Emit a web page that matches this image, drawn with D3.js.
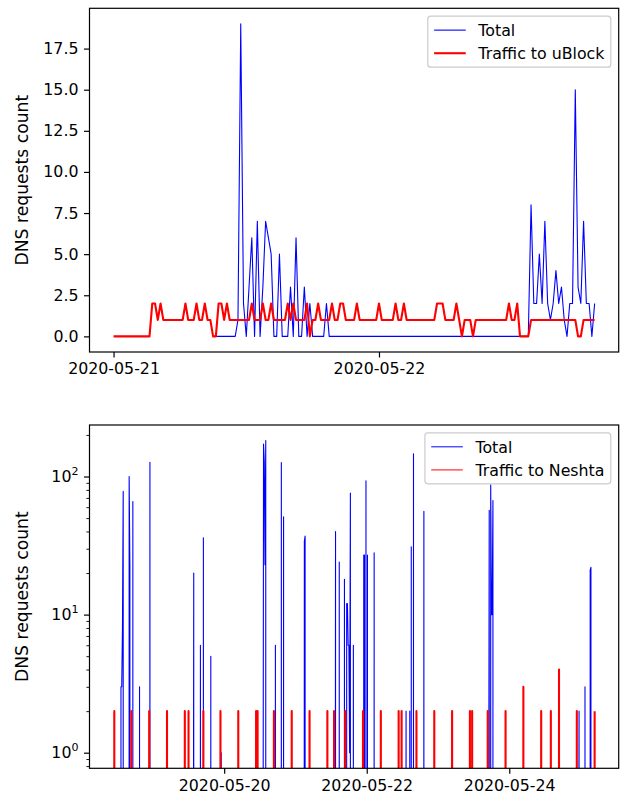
<!DOCTYPE html>
<html>
<head>
<meta charset="utf-8">
<script src="https://cdn.jsdelivr.net/npm/d3@7"></script>
<style>
  body { margin: 0; background: #ffffff; }
  svg { display: block; }
  text { font-family: "DejaVu Sans", sans-serif; fill: #000; }
</style>
</head>
<body>
<svg id="chart" width="626" height="796"></svg>
<script>
// ---------------- DATA ----------------
// Top chart: 15-minute counts
const topStepMinutes = 15;
const uBlockStart = "2020-05-21 00:00";
const uBlockValues = [
  0,0,0,0,0,0,0,0,0,0,
  0,0,0,0,2,2,1,2,1,1,
  1,1,1,1,1,1,2,1,1,1,
  2,1,1,2,1,1,0,0,2,2,
  1,2,1,1,1,1,1,1,1,1,
  2,1,1,1,2,1,1,2,1,1,
  1,1,1,2,1,2,1,1,1,1,
  2,0,1,1,2,1,1,1,1,2,
  1,1,2,2,1,1,1,1,2,1,
  1,1,1,1,1,1,2,1,1,1,
  1,1,2,1,1,2,1,1,1,1,
  1,1,1,1,1,1,1,2,2,2,
  1,1,1,1,2,1,0,1,1,1,
  0,1,1,1,1,1,1,1,1,1,
  1,1,1,2,1,1,2,0,0,0,
  0,1,1,1,1,1,1,1,1,1,
  1,1,1,1,1,1,1,1,0,0,
  1,1,1,1,1
];
const totalTopStart = "2020-05-21 09:00";
const totalTopValues = [
  0,0,0,0,
  0,0,0,0,0,1,19,2,0,3,
  6,0,7,0,3,7,6,5,0,0,
  5,0,0,0,3,0,6,0,0,3,
  0,2,0,0,0,0,0,2,0,0,
  0,0,0,0,0,0,0,0,0,0,
  0,0,0,0,0,0,0,0,0,0,
  0,0,0,0,0,0,0,0,0,0,
  0,0,0,0,0,0,0,0,0,0,
  0,0,0,0,0,0,0,0,0,0,
  0,0,0,0,0,0,0,0,0,0,
  0,0,0,0,0,0,0,0,0,0,
  0,8,2,2,5,2,7,2,1,2,
  4,2,3,1,0,2,2,15,3,2,
  7,2,2,0,2
];

// Bottom chart: samples (year 2020), zeros mark returns to no traffic
const totalBottomTimes = [
  "05-18 10:45","05-18 13:15","05-18 13:30","05-18 13:45","05-18 14:00","05-18 14:15",
  "05-18 16:00","05-18 16:15","05-18 16:30","05-18 17:15","05-18 17:30",
  "05-18 19:30","05-18 19:45","05-18 23:00","05-18 23:15",
  "05-19 13:45","05-19 14:00","05-19 16:00","05-19 16:15","05-19 17:00","05-19 17:15",
  "05-19 19:30","05-19 19:45","05-19 23:00","05-19 23:15",
  "05-20 13:15","05-20 13:30","05-20 13:45","05-20 14:00","05-20 14:15",
  "05-20 17:15","05-20 17:30","05-20 19:15","05-20 19:30","05-20 20:00","05-20 20:15",
  "05-21 03:00","05-21 03:15","05-21 03:30","05-21 13:30","05-21 13:45","05-21 14:45","05-21 15:00",
  "05-21 16:30","05-21 16:45","05-21 17:15","05-21 17:30","05-21 17:45","05-21 18:00","05-21 18:15",
  "05-21 18:30","05-21 18:45","05-21 19:30","05-21 19:45",
  "05-21 23:00","05-21 23:15","05-21 23:30","05-21 23:45","05-22 00:00","05-22 00:15","05-22 00:30",
  "05-22 02:30","05-22 02:45","05-22 13:15","05-22 13:30","05-22 14:30","05-22 14:45",
  "05-22 15:00","05-22 15:15","05-22 15:45","05-22 16:00","05-22 19:15","05-22 19:30",
  "05-23 17:15","05-23 17:30","05-23 17:45","05-23 18:00","05-23 18:15","05-23 18:30","05-23 18:45",
  "05-24 23:30","05-24 23:45","05-25 01:30","05-25 01:45","05-25 03:15","05-25 03:30","05-25 03:45",
  "05-25 04:45"
];
const totalBottomValues = [
  0,3,3,8,78,0,
  100,22,0,66,0,
  3,0,127,0,
  20,0,6,0,36,0,
  5,0,1,0,
  172,128,23,182,0,
  6,0,126,0,51,0,
  34,37,0,40,0,24,0,
  18,0,12,12,6,6,1,
  76,0,6,0,
  27,27,0,93,0,27,0,
  28,0,2,0,2,0,
  31,0,146,0,56,0,
  57,0,87,10,10,67,0,
  2,0,3,0,21,22,0,
  0
];
const neshtaTimes = [
  "05-18 10:45","05-18 11:00","05-18 11:15","05-18 16:45","05-18 17:00","05-18 22:45","05-18 23:00",
  "05-19 04:45","05-19 05:00","05-19 10:45","05-19 11:00","05-19 12:00","05-19 12:15",
  "05-19 17:00","05-19 17:15","05-19 22:45","05-19 23:00",
  "05-20 04:45","05-20 05:00","05-20 10:45","05-20 11:00","05-20 11:15","05-20 11:30",
  "05-20 16:45","05-20 17:00","05-20 22:45","05-20 23:00",
  "05-21 04:45","05-21 05:00","05-21 10:45","05-21 11:00","05-21 13:00","05-21 13:15",
  "05-21 16:45","05-21 17:00","05-21 22:45","05-21 23:00",
  "05-22 04:45","05-22 05:00","05-22 10:45","05-22 11:00","05-22 11:45","05-22 12:00",
  "05-22 16:45","05-22 17:00","05-22 22:45","05-22 23:00",
  "05-23 04:45","05-23 05:00","05-23 10:45","05-23 11:00","05-23 11:30","05-23 11:45",
  "05-23 16:45","05-23 17:00","05-23 22:45","05-23 23:00",
  "05-24 04:45","05-24 05:00","05-24 10:45","05-24 11:00","05-24 14:00","05-24 14:15",
  "05-24 16:45","05-24 17:00","05-24 22:45","05-24 23:00",
  "05-25 04:45"
];
const neshtaValues = [
  2,2,0,2,0,2,0,
  2,0,2,0,2,0,
  2,0,2,0,
  2,0,2,0,2,0,
  2,0,2,0,
  2,0,2,0,2,0,
  2,0,2,0,
  2,0,2,0,2,0,
  2,0,2,0,
  2,0,2,0,2,0,
  2,0,2,0,
  3,0,2,0,2,0,
  4,0,2,0,
  2
];

const topXTicks = ["2020-05-21", "2020-05-22"];
const topYTicks = [0, 2.5, 5, 7.5, 10, 12.5, 15, 17.5];
const bottomXTicks = ["2020-05-20", "2020-05-22", "2020-05-24"];
const bottomYMajor = [1, 10, 100];
const bottomYMinor = [0.8, 0.9, 2, 3, 4, 5, 6, 7, 8, 9, 20, 30, 40, 50, 60, 70, 80, 90, 200];
const yLabel = "DNS requests count";
const topLegend = ["Total", "Traffic to uBlock"];
const bottomLegend = ["Total", "Traffic to Neshta"];

// ---------------- LAYOUT ----------------
const FS = 15.8;
const LABEL_FS = 17.2;
const BLUE = "#0000ff", RED = "#ff0000";
const L = 89.5, R = 618.7;
const topBox = { t: 8.3, b: 352 };
const botBox = { t: 425, b: 768.3 };
const TICK = 5.5, PAD = 5.5;

const svg = d3.select("#chart");
svg.append("rect").attr("width", 626).attr("height", 796).attr("fill", "#fff");

const parse = d3.utcParse("%Y-%m-%d %H:%M");
const parseDay = d3.utcParse("%Y-%m-%d");
const STEP = topStepMinutes * 60 * 1000;

const uBlockSeries = uBlockValues.map((v, i) => ({ t: new Date(+parse(uBlockStart) + i * STEP), v }));
const totalTopSeries = totalTopValues.map((v, i) => ({ t: new Date(+parse(totalTopStart) + i * STEP), v }));
const totalBottomSeries = totalBottomTimes.map((s, i) => ({ t: parse("2020-" + s), v: totalBottomValues[i] }));
const neshtaSeries = neshtaTimes.map((s, i) => ({ t: parse("2020-" + s), v: neshtaValues[i] }));

function pad(a, b, f = 0.05) { const d = b - a; return [a - d * f, b + d * f]; }

function styleAxis(a) {
  a.select(".domain").remove();
  a.selectAll("line").attr("stroke", "#000").attr("stroke-width", 1.2);
  a.selectAll("text").attr("font-size", FS).attr("font-family", "DejaVu Sans");
}

// ---------------- TOP CHART ----------------
{
  const all = uBlockSeries.concat(totalTopSeries);
  const tx = d3.extent(all, d => +d.t);
  const x = d3.scaleUtc().domain(pad(tx[0], tx[1]).map(v => new Date(v))).range([L, R]);
  const ye = d3.extent(all, d => d.v);
  const y = d3.scaleLinear().domain(pad(ye[0], ye[1])).range([topBox.b, topBox.t]);

  const g = svg.append("g");
  const clip = svg.append("clipPath").attr("id", "clipTop");
  clip.append("rect").attr("x", L).attr("y", topBox.t).attr("width", R - L).attr("height", topBox.b - topBox.t);

  const line = d3.line().x(d => x(d.t)).y(d => y(d.v));
  const plot = g.append("g").attr("clip-path", "url(#clipTop)");
  plot.append("path").datum(totalTopSeries).attr("d", line)
    .attr("fill", "none").attr("stroke", BLUE).attr("stroke-width", 1.1).attr("stroke-linejoin", "round");
  plot.append("path").datum(uBlockSeries).attr("d", line)
    .attr("fill", "none").attr("stroke", RED).attr("stroke-width", 2.1).attr("stroke-linejoin", "round");

  const xa = g.append("g").attr("transform", `translate(0,${topBox.b})`)
    .call(d3.axisBottom(x).tickValues(topXTicks.map(parseDay)).tickFormat(d3.utcFormat("%Y-%m-%d"))
      .tickSize(TICK).tickPadding(PAD));
  const ya = g.append("g").attr("transform", `translate(${L},0)`)
    .call(d3.axisLeft(y).tickValues(topYTicks).tickFormat(d3.format(".1f")).tickSize(TICK).tickPadding(PAD));
  styleAxis(xa); styleAxis(ya);

  g.append("rect").attr("x", L).attr("y", topBox.t).attr("width", R - L).attr("height", topBox.b - topBox.t)
    .attr("fill", "none").attr("stroke", "#000").attr("stroke-width", 1.2);

  g.append("text").attr("transform", `translate(22,${(topBox.t + topBox.b) / 2}) rotate(-90)`)
    .attr("text-anchor", "middle").attr("dominant-baseline", "central").attr("font-size", LABEL_FS).text(yLabel);

  drawLegend(g, topBox.t, topLegend, [[BLUE, 1.1], [RED, 2.1]]);
}

// ---------------- BOTTOM CHART ----------------
{
  const all = totalBottomSeries.concat(neshtaSeries);
  const tx = d3.extent(all, d => +d.t);
  const x = d3.scaleUtc().domain(pad(tx[0], tx[1]).map(v => new Date(v))).range([L, R]);
  const pos = all.filter(d => d.v > 0);
  const le = d3.extent(pos, d => Math.log10(d.v));
  const ld = pad(le[0], le[1]);
  const y = d3.scaleLog().domain([Math.pow(10, ld[0]), Math.pow(10, ld[1])]).range([botBox.b, botBox.t]);

  const g = svg.append("g");
  const clip = svg.append("clipPath").attr("id", "clipBot");
  clip.append("rect").attr("x", L).attr("y", botBox.t).attr("width", R - L).attr("height", botBox.b - botBox.t);

  // non-positive values clipped to a tiny positive number, as a log axis does
  const line = d3.line().x(d => x(d.t)).y(d => y(d.v > 0 ? d.v : 1e-300));
  const plot = g.append("g").attr("clip-path", "url(#clipBot)");
  plot.append("path").datum(totalBottomSeries).attr("d", line)
    .attr("fill", "none").attr("stroke", BLUE).attr("stroke-width", 1.1).attr("stroke-linejoin", "round");
  plot.append("path").datum(neshtaSeries).attr("d", line)
    .attr("fill", "none").attr("stroke", RED).attr("stroke-width", 2.1).attr("stroke-linejoin", "round");

  const xa = g.append("g").attr("transform", `translate(0,${botBox.b})`)
    .call(d3.axisBottom(x).tickValues(bottomXTicks.map(parseDay)).tickFormat(d3.utcFormat("%Y-%m-%d"))
      .tickSize(TICK).tickPadding(PAD));
  const ya = g.append("g").attr("transform", `translate(${L},0)`)
    .call(d3.axisLeft(y).tickValues(bottomYMajor).tickFormat("").tickSize(TICK).tickPadding(PAD));
  const ym = g.append("g").attr("transform", `translate(${L},0)`)
    .call(d3.axisLeft(y).tickValues(bottomYMinor).tickFormat("").tickSize(3.1));
  styleAxis(xa); styleAxis(ya); styleAxis(ym);
  ym.selectAll("line").attr("stroke-width", 0.9);

  // log tick labels 10^k
  bottomYMajor.forEach(v => {
    const k = Math.round(Math.log10(v));
    const t = g.append("text").attr("x", L - TICK - PAD).attr("y", y(v) + 5.4)
      .attr("text-anchor", "end").attr("font-size", FS);
    t.append("tspan").text("10");
    t.append("tspan").attr("font-size", FS * 0.7).attr("dy", -7).text(String(k));
  });

  g.append("rect").attr("x", L).attr("y", botBox.t).attr("width", R - L).attr("height", botBox.b - botBox.t)
    .attr("fill", "none").attr("stroke", "#000").attr("stroke-width", 1.2);

  g.append("text").attr("transform", `translate(22,${(botBox.t + botBox.b) / 2}) rotate(-90)`)
    .attr("text-anchor", "middle").attr("dominant-baseline", "central").attr("font-size", LABEL_FS).text(yLabel);

  drawLegend(g, botBox.t, bottomLegend, [[BLUE, 1.0], [RED, 1.0]]);
}

function drawLegend(g, axTop, labels, styles) {
  const bp = 0.4 * FS, hl = 2 * FS, htp = 0.8 * FS, ls = 0.5 * FS, rowH = 15.2;
  const lg = g.append("g");
  const box = lg.append("rect");
  const texts = labels.map(s => lg.append("text").attr("font-size", FS).text(s));
  const tw = d3.max(texts, t => t.node().getComputedTextLength());
  const w = 2 * bp + hl + htp + tw;
  const h = 2 * bp + labels.length * rowH + (labels.length - 1) * ls;
  const right = R - 0.5 * FS, top = axTop + 0.5 * FS;
  const left = right - w;
  box.attr("x", left).attr("y", top).attr("width", w).attr("height", h).attr("rx", 3).attr("ry", 3)
    .attr("fill", "#fff").attr("fill-opacity", 0.8).attr("stroke", "#cccccc").attr("stroke-width", 1.2);
  labels.forEach((s, i) => {
    const cy = top + bp + rowH / 2 + i * (rowH + ls);
    lg.append("line").attr("x1", left + bp).attr("x2", left + bp + hl)
      .attr("y1", cy).attr("y2", cy).attr("stroke", styles[i][0]).attr("stroke-width", styles[i][1]);
    texts[i].attr("x", left + bp + hl + htp).attr("y", cy + 5.7);
    texts[i].raise();
  });
}
</script>
</body>
</html>
